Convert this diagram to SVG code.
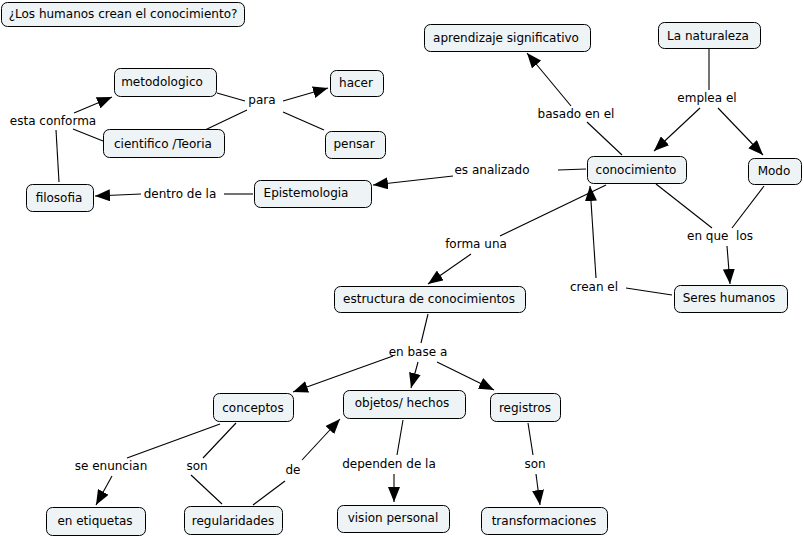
<svg xmlns="http://www.w3.org/2000/svg" width="804" height="537" viewBox="0 0 804 537">
<defs>
<style>
.n rect{fill:#eef3f5;stroke:#000;stroke-width:1}
text{font-family:"DejaVu Sans",Verdana,sans-serif;font-size:12px;fill:#000;text-anchor:middle}
.c line{stroke:#000;stroke-width:1.1}
.c line.a{marker-end:url(#ah)}
</style>
<marker id="ah" markerUnits="userSpaceOnUse" markerWidth="16" markerHeight="12" viewBox="0 0 16 12" refX="15" refY="6" orient="auto">
<path d="M0,0 L15,6 L0,12 z" fill="#000"/>
</marker>
</defs>
<rect width="804" height="537" fill="#fff"/>
<g id="connectors" class="c">
<line class="a" x1="74" y1="113" x2="112" y2="97"/>
<line x1="73" y1="129" x2="103" y2="141"/>
<line x1="59" y1="182" x2="56" y2="130"/>
<line x1="217" y1="93" x2="245" y2="101"/>
<line x1="205" y1="130" x2="247" y2="110"/>
<line class="a" x1="283" y1="101" x2="328" y2="88"/>
<line x1="283" y1="112" x2="324" y2="130"/>
<line x1="253" y1="194" x2="224" y2="194"/>
<line class="a" x1="141" y1="194" x2="95" y2="196"/>
<line x1="586" y1="169" x2="558" y2="170"/>
<line class="a" x1="453" y1="176" x2="373" y2="185"/>
<line x1="622" y1="155" x2="587" y2="122"/>
<line class="a" x1="571" y1="106" x2="527" y2="53"/>
<line x1="709" y1="49" x2="709" y2="90"/>
<line class="a" x1="700" y1="108" x2="654" y2="151"/>
<line class="a" x1="718" y1="108" x2="763" y2="155"/>
<line x1="656" y1="184" x2="712" y2="228"/>
<line x1="764" y1="186" x2="732" y2="228"/>
<line class="a" x1="727" y1="246" x2="730" y2="284"/>
<line x1="672" y1="295" x2="626" y2="288"/>
<line class="a" x1="596" y1="278" x2="590" y2="186"/>
<line x1="606" y1="185" x2="500" y2="236"/>
<line class="a" x1="471" y1="254" x2="428" y2="284"/>
<line x1="428" y1="314" x2="421" y2="343"/>
<line class="a" x1="393" y1="356" x2="293" y2="392"/>
<line class="a" x1="418" y1="362" x2="411" y2="388"/>
<line class="a" x1="437" y1="362" x2="494" y2="390"/>
<line x1="220" y1="424" x2="127" y2="458"/>
<line class="a" x1="112" y1="476" x2="96" y2="505"/>
<line x1="236" y1="423" x2="203" y2="458"/>
<line x1="191" y1="475" x2="222" y2="504"/>
<line x1="253" y1="505" x2="285" y2="481"/>
<line class="a" x1="302" y1="460" x2="340" y2="419"/>
<line x1="403" y1="420" x2="397" y2="455"/>
<line class="a" x1="394" y1="474" x2="394" y2="502"/>
<line x1="528" y1="423" x2="533" y2="455"/>
<line class="a" x1="536" y1="474" x2="540" y2="505"/>
</g>
<g id="labels">
<text x="53" y="125">esta conforma</text>
<text x="262" y="104">para</text>
<text x="180" y="198">dentro de la</text>
<text x="492" y="174">es analizado</text>
<text x="576" y="118">basado en el</text>
<text x="707" y="102">emplea el</text>
<text x="476" y="248">forma una</text>
<text x="720" y="240" xml:space="preserve">en que  los</text>
<text x="594" y="291">crean el</text>
<text x="418" y="356">en base a</text>
<text x="111" y="470">se enuncian</text>
<text x="197" y="470">son</text>
<text x="293" y="474">de</text>
<text x="389" y="468">dependen de la</text>
<text x="535" y="468">son</text>
</g>
<g id="n-title" class="n"><rect x="1.5" y="2.5" width="243" height="24" rx="6"/><text x="123" y="18">¿Los humanos crean el conocimiento?</text></g>
<g id="n-metodologico" class="n"><rect x="114.5" y="68.5" width="102" height="28" rx="6"/><text x="162" y="86">metodologico</text></g>
<g id="n-cientifico" class="n"><rect x="103.5" y="129.5" width="121" height="28" rx="6"/><text x="163" y="148">cientifico /Teoria</text></g>
<g id="n-hacer" class="n"><rect x="330.5" y="70.5" width="53" height="26" rx="6"/><text x="356" y="87">hacer</text></g>
<g id="n-pensar" class="n"><rect x="325.5" y="131.5" width="60" height="27" rx="6"/><text x="354" y="148">pensar</text></g>
<g id="n-filosofia" class="n"><rect x="26.5" y="184.5" width="67" height="27" rx="6"/><text x="59" y="202">filosofia</text></g>
<g id="n-epistemologia" class="n"><rect x="254.5" y="180.5" width="117" height="27" rx="6"/><text x="306" y="197">Epistemologia</text></g>
<g id="n-aprendizaje" class="n"><rect x="424.5" y="24.5" width="166" height="27" rx="6"/><text x="506" y="42">aprendizaje significativo</text></g>
<g id="n-naturaleza" class="n"><rect x="658.5" y="22.5" width="102" height="26" rx="6"/><text x="708" y="40">La naturaleza</text></g>
<g id="n-conocimiento" class="n"><rect x="587.5" y="156.5" width="99" height="27" rx="6"/><text x="636" y="174">conocimiento</text></g>
<g id="n-modo" class="n"><rect x="748.5" y="158.5" width="53" height="26" rx="6"/><text x="774" y="175">Modo</text></g>
<g id="n-seres" class="n"><rect x="674.5" y="285.5" width="113" height="27" rx="6"/><text x="729" y="302">Seres humanos</text></g>
<g id="n-estructura" class="n"><rect x="334.5" y="286.5" width="191" height="26" rx="6"/><text x="429" y="303">estructura de conocimientos</text></g>
<g id="n-conceptos" class="n"><rect x="213.5" y="393.5" width="80" height="28" rx="6"/><text x="253" y="412">conceptos</text></g>
<g id="n-objetos" class="n"><rect x="343.5" y="390.5" width="122" height="28" rx="6"/><text x="402" y="407">objetos/ hechos</text></g>
<g id="n-registros" class="n"><rect x="490.5" y="393.5" width="70" height="28" rx="6"/><text x="525" y="412">registros</text></g>
<g id="n-etiquetas" class="n"><rect x="46.5" y="507.5" width="99" height="28" rx="6"/><text x="95" y="525">en etiquetas</text></g>
<g id="n-regularidades" class="n"><rect x="184.5" y="506.5" width="98" height="28" rx="6"/><text x="233" y="525">regularidades</text></g>
<g id="n-vision" class="n"><rect x="337.5" y="505.5" width="112" height="27" rx="6"/><text x="393" y="522">vision personal</text></g>
<g id="n-transformaciones" class="n"><rect x="481.5" y="507.5" width="126" height="27" rx="6"/><text x="544" y="525">transformaciones</text></g>
</svg>
